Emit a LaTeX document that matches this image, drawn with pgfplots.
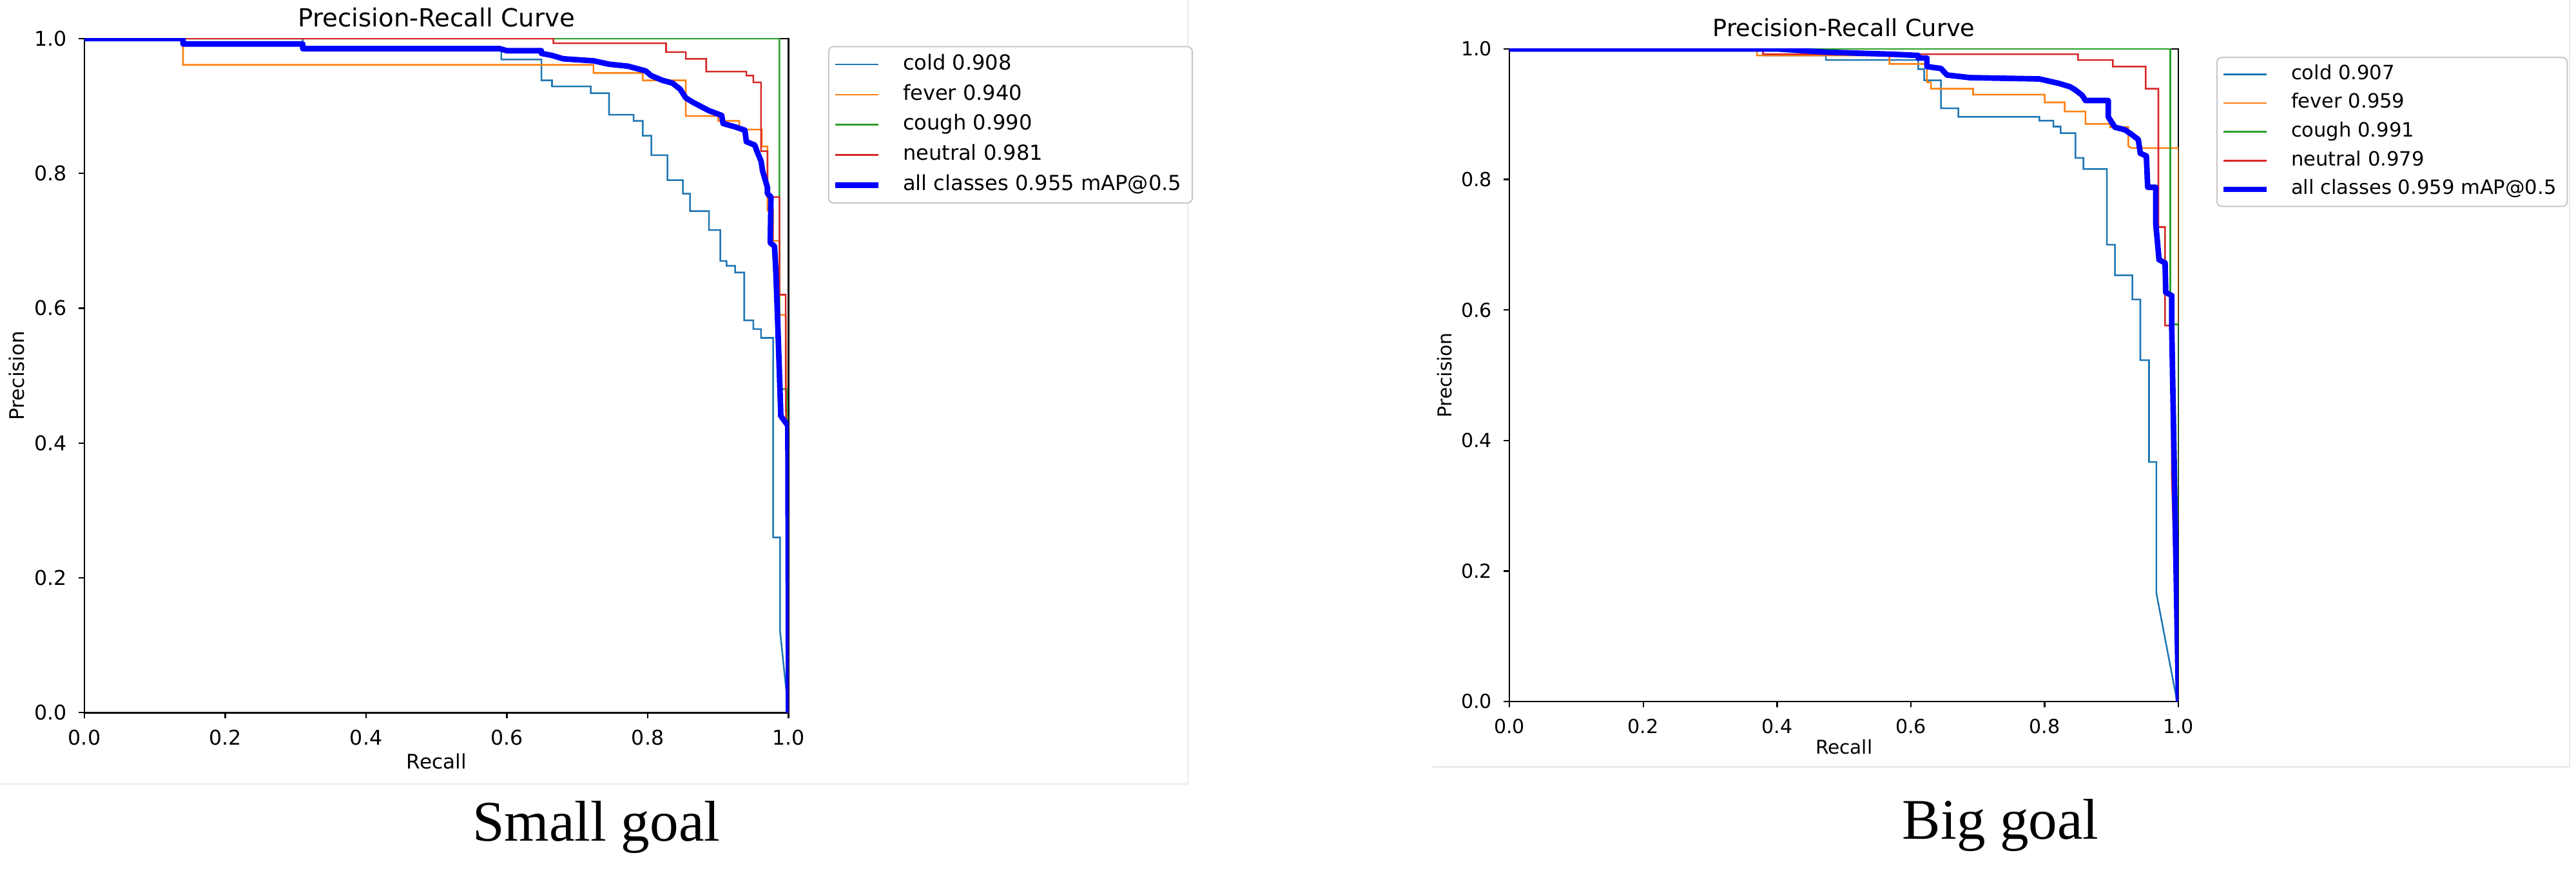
\documentclass[border=0pt]{standalone}
\usepackage{fontspec}
\setmainfont{DejaVu Sans}
\newfontfamily\goalfont{Liberation Serif}
\usepackage{pgfplots}
\pgfplotsset{compat=1.18}
\definecolor{cold}{HTML}{1F77B4}
\definecolor{fever}{HTML}{FF7F0E}
\definecolor{cough}{HTML}{2CA02C}
\definecolor{neutral}{HTML}{D62728}
\definecolor{allc}{HTML}{0000FF}
\pgfplotsset{
 prbase/.style={
  scale only axis, xmin=0, xmax=1, ymin=0, ymax=1,
  xtick={0,0.2,0.4,0.6,0.8,1}, ytick={0,0.2,0.4,0.6,0.8,1},
  xticklabels={0.0,0.2,0.4,0.6,0.8,1.0}, yticklabels={0.0,0.2,0.4,0.6,0.8,1.0},
  /pgf/number format/assume math mode=true,
  tick align=outside, xtick pos=bottom, ytick pos=left,
  major tick length=1.8pt,
  axis line style={line width=0.5pt},
  every tick/.style={black, line width=0.45pt},
  xlabel=Recall, ylabel=Precision, title=Precision-Recall Curve,
  title style={at={(axis description cs:0.5,1)}, anchor=center},
  xlabel style={at={(axis description cs:0.5,0)}, anchor=center},
  ylabel style={at={(axis description cs:0,0.5)}, anchor=center},
  legend cell align=left,
  legend image code/.code={\draw[#1] (0pt,0pt) -- (13pt,0pt);},
  legend style={anchor=north west, draw=black!22, line width=0.4pt, rounded corners=1.5pt, fill=white,
    inner xsep=1.2pt, inner ysep=0.8pt, row sep=0pt,
    nodes={inner ysep=0pt, inner xsep=2.1pt, text height=6.2pt, text depth=3pt},
    /tikz/every odd column/.append style={column sep=4.6pt}},
 },
 cold/.style={color=cold, line width=0.5pt},
 fever/.style={color=fever, line width=0.5pt},
 cough/.style={color=cough, line width=0.5pt},
 neutral/.style={color=neutral, line width=0.5pt},
 allc/.style={color=allc, line width=1.7pt, line join=round},
}
\begin{document}
\begin{tikzpicture}
\useasboundingbox (0,0) rectangle (784pt,264.5pt);
\draw[black!8, line width=0.5pt] (0pt,25.75pt) -- (361.5pt,25.75pt) -- (361.5pt,264.5pt);
\draw[black!8, line width=0.5pt] (435.85pt,31pt) -- (782pt,31pt) -- (782pt,264.5pt);

% ---------------- Small goal ----------------
\begin{axis}[prbase, at={(25.7pt,47.5pt)}, anchor=south west, width=214.3pt, height=205.25pt,
  tick label style={font=\fontsize{6.2}{7.2}\selectfont},
  title style={font=\fontsize{7.6}{9}\selectfont, yshift=0.4pt},
  label style={font=\fontsize{6.1}{7.2}\selectfont},
  xlabel style={yshift=-14.8pt}, ylabel style={yshift=20.6pt},
  legend style={at={(1.056,0.989)}, font=\fontsize{6.3}{7.5}\selectfont}]
\addplot[cold] coordinates {(0,1)(0.31,1)(0.31,0.985)(0.592,0.985)(0.592,0.969)(0.649,0.969)(0.649,0.938)(0.664,0.938)(0.664,0.929)(0.719,0.929)(0.719,0.919)(0.745,0.919)(0.745,0.887)(0.78,0.887)(0.78,0.878)(0.793,0.878)(0.793,0.856)(0.805,0.856)(0.805,0.827)(0.828,0.827)(0.828,0.79)(0.85,0.79)(0.85,0.77)(0.86,0.77)(0.86,0.744)(0.887,0.744)(0.887,0.716)(0.903,0.716)(0.903,0.67)(0.912,0.67)(0.912,0.663)(0.924,0.663)(0.924,0.653)(0.937,0.653)(0.937,0.582)(0.95,0.582)(0.95,0.569)(0.961,0.569)(0.961,0.556)(0.978,0.556)(0.978,0.26)(0.988,0.26)(0.988,0.12)(1.0,0)};
\addlegendentry{cold 0.908}
\addplot[fever] coordinates {(0,1)(0.14,1)(0.14,0.961)(0.723,0.961)(0.723,0.949)(0.793,0.949)(0.793,0.938)(0.854,0.938)(0.854,0.885)(0.90,0.885)(0.90,0.878)(0.93,0.878)(0.93,0.865)(0.962,0.865)(0.962,0.84)(0.97,0.84)(0.97,0.745)(0.978,0.745)(0.978,0.70)(0.987,0.70)(0.987,0.59)(0.996,0.59)(1.0,0)};
\addlegendentry{fever 0.940}
\addplot[cough] coordinates {(0,1)(0.987,1)(0.987,0.48)(0.998,0.48)(1.0,0)};
\addlegendentry{cough 0.990}
\addplot[neutral] coordinates {(0,1)(0.666,1)(0.666,0.993)(0.826,0.993)(0.826,0.98)(0.854,0.98)(0.854,0.97)(0.883,0.97)(0.883,0.951)(0.94,0.951)(0.94,0.945)(0.95,0.945)(0.95,0.935)(0.961,0.935)(0.961,0.833)(0.97,0.833)(0.97,0.765)(0.987,0.765)(0.987,0.62)(0.996,0.62)(0.996,0.48)(1.0,0)};
\addlegendentry{neutral 0.981}
\addplot[allc] coordinates {(0,1)(0.14,1)(0.14,0.992)(0.31,0.992)(0.31,0.985)(0.59,0.985)(0.60,0.982)(0.649,0.982)(0.649,0.978)(0.664,0.975)(0.68,0.97)(0.723,0.967)(0.745,0.962)(0.772,0.959)(0.797,0.952)(0.805,0.945)(0.821,0.938)(0.835,0.934)(0.846,0.925)(0.854,0.912)(0.865,0.905)(0.887,0.893)(0.905,0.886)(0.907,0.874)(0.924,0.869)(0.938,0.864)(0.94,0.847)(0.952,0.842)(0.955,0.833)(0.961,0.818)(0.963,0.804)(0.97,0.779)(0.97,0.77)(0.975,0.765)(0.974,0.697)(0.98,0.692)(0.982,0.653)(0.985,0.566)(0.989,0.44)(0.999,0.426)(1.0,0)};
\addlegendentry{all classes 0.955 mAP@0.5}
\end{axis}

% ---------------- Big goal ----------------
\begin{axis}[prbase, at={(459.4pt,50.9pt)}, anchor=south west, width=203.6pt, height=198.7pt,
  tick label style={font=\fontsize{5.9}{6.9}\selectfont},
  title style={font=\fontsize{7.2}{8.6}\selectfont, yshift=0.4pt},
  label style={font=\fontsize{5.8}{6.9}\selectfont},
  xlabel style={yshift=-13.85pt}, ylabel style={yshift=19.65pt},
  legend style={at={(1.0565,0.988)}, font=\fontsize{6}{7.2}\selectfont,
    nodes={text height=5.9pt, text depth=2.85pt}}]
\addplot[cold] coordinates {(0,1)(0.379,1)(0.379,0.99)(0.473,0.99)(0.473,0.983)(0.611,0.983)(0.611,0.969)(0.62,0.969)(0.62,0.952)(0.645,0.952)(0.645,0.909)(0.671,0.909)(0.671,0.896)(0.792,0.896)(0.792,0.89)(0.813,0.89)(0.813,0.881)(0.824,0.881)(0.824,0.871)(0.846,0.871)(0.846,0.833)(0.858,0.833)(0.858,0.816)(0.893,0.816)(0.893,0.70)(0.905,0.70)(0.905,0.653)(0.931,0.653)(0.931,0.616)(0.943,0.616)(0.943,0.523)(0.956,0.523)(0.956,0.367)(0.967,0.367)(0.967,0.166)(0.998,0)};
\addlegendentry{cold 0.907}
\addplot[fever] coordinates {(0,1)(0.37,1)(0.37,0.99)(0.568,0.99)(0.568,0.977)(0.624,0.977)(0.624,0.949)(0.63,0.949)(0.63,0.939)(0.693,0.939)(0.693,0.93)(0.80,0.93)(0.80,0.918)(0.83,0.918)(0.83,0.904)(0.861,0.904)(0.861,0.885)(0.898,0.885)(0.898,0.88)(0.925,0.88)(0.925,0.851)(0.93,0.848)(1.0,0.848)(1.0,0)};
\addlegendentry{fever 0.959}
\addplot[cough] coordinates {(0,1)(0.988,1)(0.988,0.578)(1.0,0.578)(1.0,0)};
\addlegendentry{cough 0.991}
\addplot[neutral] coordinates {(0,1)(0.379,1)(0.379,0.992)(0.85,0.992)(0.85,0.983)(0.902,0.983)(0.902,0.973)(0.951,0.973)(0.951,0.939)(0.97,0.939)(0.97,0.727)(0.98,0.727)(0.98,0.576)(0.99,0.576)(0.99,0.35)(1.0,0)};
\addlegendentry{neutral 0.979}
\addplot[allc] coordinates {(0,1)(0.40,1)(0.473,0.995)(0.568,0.992)(0.611,0.99)(0.611,0.986)(0.624,0.986)(0.624,0.973)(0.645,0.97)(0.654,0.96)(0.688,0.956)(0.792,0.954)(0.822,0.947)(0.838,0.942)(0.846,0.937)(0.856,0.929)(0.861,0.921)(0.895,0.921)(0.895,0.896)(0.905,0.88)(0.92,0.876)(0.93,0.869)(0.94,0.861)(0.943,0.84)(0.952,0.836)(0.954,0.788)(0.966,0.788)(0.966,0.733)(0.971,0.677)(0.98,0.672)(0.981,0.627)(0.99,0.622)(0.99,0.571)(1.0,0)};
\addlegendentry{all classes 0.959 mAP@0.5}
\end{axis}

\node[anchor=base, font=\goalfont\fontsize{17.5}{20}\selectfont] at (181.5pt,8.5pt) {Small goal};
\node[anchor=base, font=\goalfont\fontsize{17.5}{20}\selectfont] at (608.9pt,9pt) {Big goal};
\end{tikzpicture}
\end{document}
